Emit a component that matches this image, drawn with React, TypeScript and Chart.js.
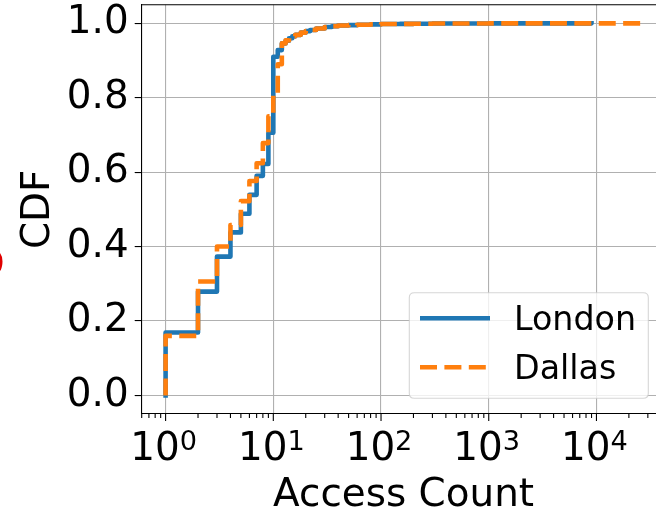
import React, { useEffect, useRef } from 'react';
import { Chart, registerables } from 'chart.js';

Chart.register(...registerables);

// ---- data ----
const seriesNames = ['London', 'Dallas'];
const londonCounts = [1, 1, 2, 3, 4, 5, 6, 7, 8, 9, 10, 11, 12, 13, 14, 15, 16, 18, 20, 22, 25, 30, 35, 40, 50, 60, 80, 100, 150, 200, 300, 500, 1000, 2000, 9000];
const londonCdf = [0, 0.169, 0.279, 0.373, 0.438, 0.488, 0.539, 0.59, 0.622, 0.706, 0.91, 0.928, 0.946, 0.953, 0.96, 0.965, 0.969, 0.975, 0.979, 0.982, 0.986, 0.99, 0.992, 0.994, 0.995, 0.996, 0.997, 0.998, 0.9985, 0.999, 0.9993, 0.9995, 0.9997, 0.9999, 1.0];
const dallasCounts = [1, 1, 2, 3, 4, 5, 6, 7, 8, 9, 10, 11, 12, 13, 14, 15, 16, 18, 20, 22, 25, 30, 35, 40, 50, 60, 80, 100, 150, 200, 300, 500, 1000, 2000, 5000, 26000];
const dallasCdf = [0, 0.16, 0.306, 0.4, 0.458, 0.522, 0.576, 0.624, 0.678, 0.75, 0.81, 0.89, 0.946, 0.954, 0.96, 0.965, 0.969, 0.975, 0.979, 0.982, 0.986, 0.99, 0.992, 0.994, 0.995, 0.996, 0.997, 0.998, 0.9985, 0.999, 0.9993, 0.9995, 0.9997, 0.9998, 0.9999, 1.0];
const yTicks = [0, 0.2, 0.4, 0.6, 0.8, 1.0];
const xTickExponents = [0, 1, 2, 3, 4];
const xLabel = 'Access Count';
const yLabel = 'CDF';
const clippedNote = 'S';

const FONT = '"DejaVu Sans", sans-serif';
const BLUE = '#1f77b4';
const ORANGE = '#ff7f0e';
const LW = 4.6;
const DASH = [17, 7.4];

const decorPlugin = {
  id: 'decor',
  afterDraw(chart: any) {
    const ctx = chart.ctx;
    const area = chart.chartArea;
    const xs = chart.scales.x;
    ctx.save();
    // top spine
    ctx.strokeStyle = '#000';
    ctx.lineWidth = 1.1;
    ctx.beginPath();
    ctx.moveTo(area.left, area.top);
    ctx.lineTo(area.right + 1, area.top);
    ctx.stroke();
    // x ticks (major + minor)
    for (let e = -1; e <= 5; e++) {
      for (let m = 1; m <= 9; m++) {
        const v = m * Math.pow(10, e);
        if (v < xs.min || v > xs.max) continue;
        const px = xs.getPixelForValue(v);
        const len = m === 1 ? 7 : 4;
        ctx.beginPath();
        ctx.moveTo(px, area.bottom);
        ctx.lineTo(px, area.bottom + len);
        ctx.stroke();
      }
    }
    // x tick labels: 10^e
    ctx.fillStyle = '#000';
    ctx.textBaseline = 'alphabetic';
    ctx.textAlign = 'left';
    for (const e of xTickExponents) {
      const px = xs.getPixelForValue(Math.pow(10, e));
      ctx.font = `38.9px ${FONT}`;
      const wBase = ctx.measureText('10').width;
      ctx.font = `27.2px ${FONT}`;
      const wSup = ctx.measureText(String(e)).width;
      const start = px - (wBase + wSup) / 2 - 2;
      ctx.font = `38.9px ${FONT}`;
      ctx.fillText('10', start, 460.4);
      ctx.font = `27.2px ${FONT}`;
      ctx.fillText(String(e), start + wBase, 450);
    }
    // x axis label
    ctx.font = `38.9px ${FONT}`;
    ctx.textAlign = 'center';
    ctx.fillText(xLabel, (area.left + area.right) / 2, 505.5);
    // y axis label
    ctx.save();
    ctx.translate(48.5, (area.top + area.bottom) / 2);
    ctx.rotate(-Math.PI / 2);
    ctx.textAlign = 'center';
    ctx.fillText(yLabel, 0, 0);
    ctx.restore();
    // clipped red text at the left edge
    ctx.save();
    ctx.translate(1.5, 261);
    ctx.rotate(-Math.PI / 2);
    ctx.fillStyle = '#e00000';
    ctx.textAlign = 'center';
    ctx.fillText(clippedNote, 0, 0);
    ctx.restore();
    // legend
    const lx = 409.3, ly = 292.7, lw = 239, lh = 105.6, r = 5;
    ctx.beginPath();
    ctx.moveTo(lx + r, ly);
    ctx.lineTo(lx + lw - r, ly);
    ctx.quadraticCurveTo(lx + lw, ly, lx + lw, ly + r);
    ctx.lineTo(lx + lw, ly + lh - r);
    ctx.quadraticCurveTo(lx + lw, ly + lh, lx + lw - r, ly + lh);
    ctx.lineTo(lx + r, ly + lh);
    ctx.quadraticCurveTo(lx, ly + lh, lx, ly + lh - r);
    ctx.lineTo(lx, ly + r);
    ctx.quadraticCurveTo(lx, ly, lx + r, ly);
    ctx.closePath();
    ctx.fillStyle = 'rgba(255,255,255,0.8)';
    ctx.fill();
    ctx.strokeStyle = 'rgba(204,204,204,0.8)';
    ctx.lineWidth = 1.1;
    ctx.stroke();
    const entries = [
      { color: BLUE, dash: [] as number[], y: 318.3, text: seriesNames[0], ty: 330 },
      { color: ORANGE, dash: DASH, y: 367.3, text: seriesNames[1], ty: 379 },
    ];
    for (const en of entries) {
      ctx.beginPath();
      ctx.setLineDash(en.dash);
      ctx.strokeStyle = en.color;
      ctx.lineWidth = LW;
      ctx.lineCap = 'butt';
      ctx.moveTo(420, en.y);
      ctx.lineTo(490, en.y);
      ctx.stroke();
      ctx.setLineDash([]);
      ctx.fillStyle = '#000';
      ctx.font = `33.3px ${FONT}`;
      ctx.textAlign = 'left';
      ctx.fillText(en.text, 514, en.ty);
    }
    ctx.restore();
  },
};

export default function App() {
  const ref = useRef<HTMLCanvasElement>(null);
  useEffect(() => {
    if (!ref.current) return;
    const chart = new Chart(ref.current, {
      type: 'line',
      data: {
        datasets: [
          {
            label: seriesNames[1],
            data: dallasCounts.map((c, i) => ({ x: c, y: dallasCdf[i] })),
            borderColor: ORANGE,
            borderWidth: LW,
            borderDash: DASH,
            borderCapStyle: 'butt',
            borderJoinStyle: 'round',
            pointRadius: 0,
            fill: false,
            stepped: 'before',
            order: 0,
          },
          {
            label: seriesNames[0],
            data: londonCounts.map((c, i) => ({ x: c, y: londonCdf[i] })),
            borderColor: BLUE,
            borderWidth: LW,
            borderCapStyle: 'square',
            borderJoinStyle: 'round',
            pointRadius: 0,
            fill: false,
            stepped: 'before',
            order: 1,
          },
        ],
      },
      options: {
        responsive: false,
        animation: false,
        events: [],
        layout: { padding: { left: 0, top: 4.7, right: 680 - 665.5, bottom: 0 } },
        plugins: { legend: { display: false }, tooltip: { enabled: false } },
        scales: {
          x: {
            type: 'logarithmic',
            min: Math.pow(10, -0.2215),
            max: Math.pow(10, 4.641),
            afterBuildTicks: (s: any) => {
              s.ticks = xTickExponents.map((e) => ({ value: Math.pow(10, e), major: true }));
            },
            afterFit: (s: any) => {
              s.height = 96;
              s.paddingLeft = 0;
              s.paddingRight = 0;
            },
            ticks: { display: false },
            grid: { color: '#b0b0b0', lineWidth: 1.1, drawTicks: false },
            border: { display: true, color: '#000', width: 1.1 },
          },
          y: {
            type: 'linear',
            min: -0.05,
            max: 1.05,
            afterBuildTicks: (s: any) => {
              s.ticks = yTicks.map((v) => ({ value: v }));
            },
            afterFit: (s: any) => {
              s.width = 141.7;
              s.paddingTop = 0;
              s.paddingBottom = 0;
            },
            ticks: {
              font: { family: FONT, size: 38.9 },
              color: '#000',
              padding: 6,
              callback: (v: any) => Number(v).toFixed(1),
            },
            grid: { color: '#b0b0b0', lineWidth: 1.1, drawTicks: true, tickLength: 7, tickColor: '#000', tickWidth: 1.1 },
            border: { display: true, color: '#000', width: 1.1 },
          },
        },
      } as any,
      plugins: [decorPlugin],
    });
    return () => chart.destroy();
  }, []);
  return (
    <div style={{ position: 'fixed', left: 0, top: 0, width: 656, height: 510, overflow: 'hidden', background: '#fff' }}>
      <canvas ref={ref} width={680} height={510} style={{ display: 'block' }} />
    </div>
  );
}
